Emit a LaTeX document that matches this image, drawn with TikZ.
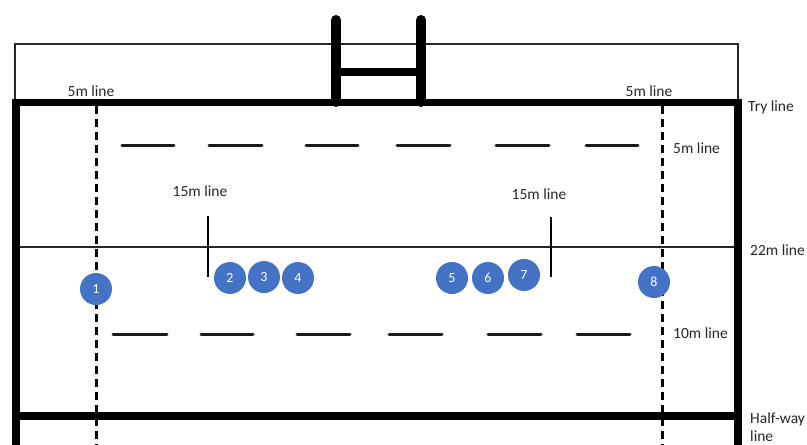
\documentclass[tikz,border=0pt]{standalone}
\usepackage{fontspec}
\setmainfont{Carlito}
\definecolor{playerblue}{RGB}{68,114,196}
\definecolor{labelgray}{RGB}{38,38,38}
\begin{document}
\begin{tikzpicture}[x=1pt,y=-1pt,
  thinline/.style={line width=1.5pt,black!85},
  thickline/.style={line width=7.5pt,black},
  postline/.style={line width=10pt,black,line cap=round},
  fivemdash/.style={line width=3pt,black,dash pattern=on 8pt off 5pt},
  fieldmark/.style={line width=3pt,black!90,line cap=round},
  lbl/.style={font=\fontsize{15.5}{18}\selectfont,text=labelgray,inner sep=0pt,anchor=base},
  lbll/.style={lbl,anchor=base west},
  player/.style={circle,fill=playerblue,draw=none,minimum size=32pt,inner sep=0pt,
    text=white,font=\fontsize{14}{14}\selectfont}]
\useasboundingbox (0,0) rectangle (807,445);

% in-goal area outline
\draw[thinline] (15,102) -- (15,44) -- (738,44) -- (738,102);

% 22m line
\draw[thinline] (16,247) -- (738,247);

% goal posts
\draw[postline] (336,20) -- (336,102);
\draw[postline] (421,20) -- (421,102);
\draw[line width=8pt,black] (336,72) -- (421,72);

% try line, touch lines, half-way line
\draw[thickline] (12,102.5) -- (742,102.5);
\draw[thickline] (16,99) -- (16,445);
\draw[thickline] (738,99) -- (738,445);
\draw[thickline] (16,416) -- (738,416);

% 5m lines (vertical, dashed)
\draw[fivemdash] (96,106) -- (96,445);
\draw[fivemdash] (662,106) -- (662,445);

% 5m line (horizontal dashes)
\foreach \a/\b in {122/174,209/262,306/358,397/450,496/549,586/638}
  \draw[fieldmark] (\a,145.5) -- (\b,145.5);

% 10m line (horizontal dashes)
\foreach \a/\b in {113/167,201/253,297/350,389/442,488/541,577/630}
  \draw[fieldmark] (\a,334) -- (\b,334);

% 15m marks
\draw[line width=2.5pt,black] (208,216) -- (208,277);
\draw[line width=2.5pt,black] (551,217) -- (551,277);

% labels
\node[lbl] (l5a) at (91,96.5) {5m line};
\node[lbl] (l5b) at (649,96) {5m line};
\node[lbll] (try) at (748,111) {Try line};
\node[lbll] (l5c) at (673,153) {5m line};
\node[lbll] (l22) at (750,255) {22m line};
\node[lbll] (l10) at (673,338) {10m line};
\node[lbll] (hw1) at (750,423) {Half-way};
\node[lbll] (hw2) at (750,441) {line};
\node[lbl] (l15a) at (200,196) {15m line};
\node[lbl] (l15b) at (539,199) {15m line};

% players
\node[player] (p1) at (96,289) {1};
\node[player] (p2) at (230,278) {2};
\node[player] (p3) at (264,277) {3};
\node[player] (p4) at (298,278) {4};
\node[player] (p5) at (452,278) {5};
\node[player] (p6) at (488,278) {6};
\node[player] (p7) at (524,275) {7};
\node[player] (p8) at (654,282) {8};
\end{tikzpicture}
\end{document}
